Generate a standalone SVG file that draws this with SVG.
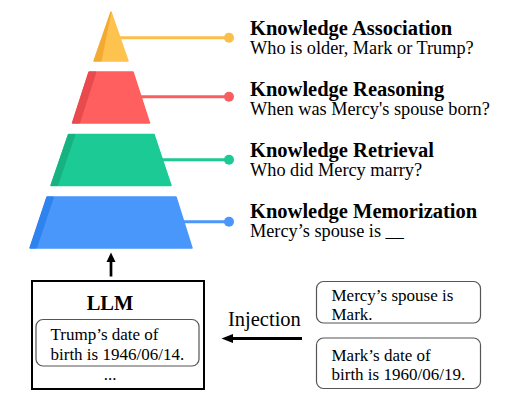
<svg xmlns="http://www.w3.org/2000/svg" width="524" height="404" viewBox="0 0 524 404">
<defs>
<style>
text{font-family:"Liberation Serif","Times New Roman",serif;fill:#000}
.h{font-weight:bold;font-size:20.5px}
.q{font-size:18.3px}
.s{font-size:17px}
.lk{stroke-width:3;fill:none}
.box{fill:#fff;stroke:#555;stroke-width:1.2}
.arr{stroke:#000;fill:none}
</style>
</defs>
<rect width="524" height="404" fill="#fff"/>
<g id="connectors">
<line class="lk" x1="112" y1="37.7" x2="229" y2="37.7" stroke="#F9BF4B"/>
<circle cx="229" cy="37.7" r="5" fill="#F9BF4B"/>
<line class="lk" x1="112" y1="96.7" x2="229" y2="96.7" stroke="#F75F60"/>
<circle cx="229" cy="96.7" r="5" fill="#F75F60"/>
<line class="lk" x1="112" y1="159.7" x2="229" y2="159.7" stroke="#1DC995"/>
<circle cx="229" cy="159.7" r="5" fill="#1DC995"/>
<line class="lk" x1="112" y1="221.7" x2="229" y2="221.7" stroke="#4A96FA"/>
<circle cx="229" cy="221.7" r="5" fill="#4A96FA"/>
<line class="arr" x1="111" y1="276.5" x2="111" y2="260" stroke-width="2.7"/>
<polygon points="111,252.5 115.5,262 106.5,262" fill="#000"/>
<line class="arr" x1="302" y1="338.5" x2="231" y2="338.5" stroke-width="3.2"/>
<polygon points="221.5,338.5 233,334 233,343" fill="#000"/>
</g>
<g id="level-association">
<polygon points="111,12 128,61 94,61" fill="#FEC24E" stroke="#FEC24E" stroke-width="1.5" stroke-linejoin="round"/>
<polygon points="111,12 101,61 94,61" fill="#F2AA33" stroke="#F2AA33" stroke-width="1" stroke-linejoin="round"/>
<text class="h" x="250" y="35">Knowledge Association</text>
<text class="q" x="250" y="54">Who is older, Mark or Trump?</text>
</g>
<g id="level-reasoning">
<polygon points="89,72 133,72 149.5,123 72.5,123" fill="#FF5F5F" stroke="#FF5F5F" stroke-width="1.5" stroke-linejoin="round"/>
<polygon points="89,72 96,72 79.5,123 72.5,123" fill="#E84A4E" stroke="#E84A4E" stroke-width="1" stroke-linejoin="round"/>
<text class="h" x="250" y="96">Knowledge Reasoning</text>
<text class="q" x="250" y="115">When was Mercy's spouse born?</text>
</g>
<g id="level-retrieval">
<polygon points="68.5,134.5 154,134.5 171,185.5 51,185.5" fill="#1CCA96" stroke="#1CCA96" stroke-width="1.5" stroke-linejoin="round"/>
<polygon points="68.5,134.5 75,134.5 57.5,185.5 51,185.5" fill="#17B282" stroke="#17B282" stroke-width="1" stroke-linejoin="round"/>
<text class="h" x="250" y="157">Knowledge Retrieval</text>
<text class="q" x="250" y="176">Who did Mercy marry?</text>
</g>
<g id="level-memorization">
<polygon points="47,197 176,197 192,248 30,248" fill="#4A97FB" stroke="#4A97FB" stroke-width="1.5" stroke-linejoin="round"/>
<polygon points="47,197 53.5,197 36.5,248 30,248" fill="#2F83EE" stroke="#2F83EE" stroke-width="1" stroke-linejoin="round"/>
<text class="h" x="250" y="218">Knowledge Memorization</text>
<text class="q" x="250" y="237">Mercy’s spouse is __</text>
</g>
<g id="llm">
<rect x="32" y="281" width="172" height="108" fill="#fff" stroke="#000" stroke-width="2"/>
<text class="h" x="110" y="310" text-anchor="middle">LLM</text>
<rect class="box" x="36" y="319.5" width="163" height="46.5" rx="7"/>
<text class="s" x="50.5" y="340">Trump’s date of</text>
<text class="s" x="50.5" y="360">birth is 1946/06/14.</text>
<text class="s" x="110" y="380" text-anchor="middle">...</text>
</g>
<g id="injection-label">
<text class="h" style="font-weight:normal" x="228" y="326">Injection</text>
</g>
<g id="fact-1">
<rect class="box" x="316.5" y="281.5" width="164" height="41.5" rx="7"/>
<text class="s" x="331.5" y="301">Mercy’s spouse is</text>
<text class="s" x="331.5" y="319.5">Mark.</text>
</g>
<g id="fact-2">
<rect class="box" x="316.5" y="338" width="164" height="50.5" rx="7"/>
<text class="s" x="331.5" y="361">Mark’s date of</text>
<text class="s" x="331.5" y="380">birth is 1960/06/19.</text>
</g>
</svg>
